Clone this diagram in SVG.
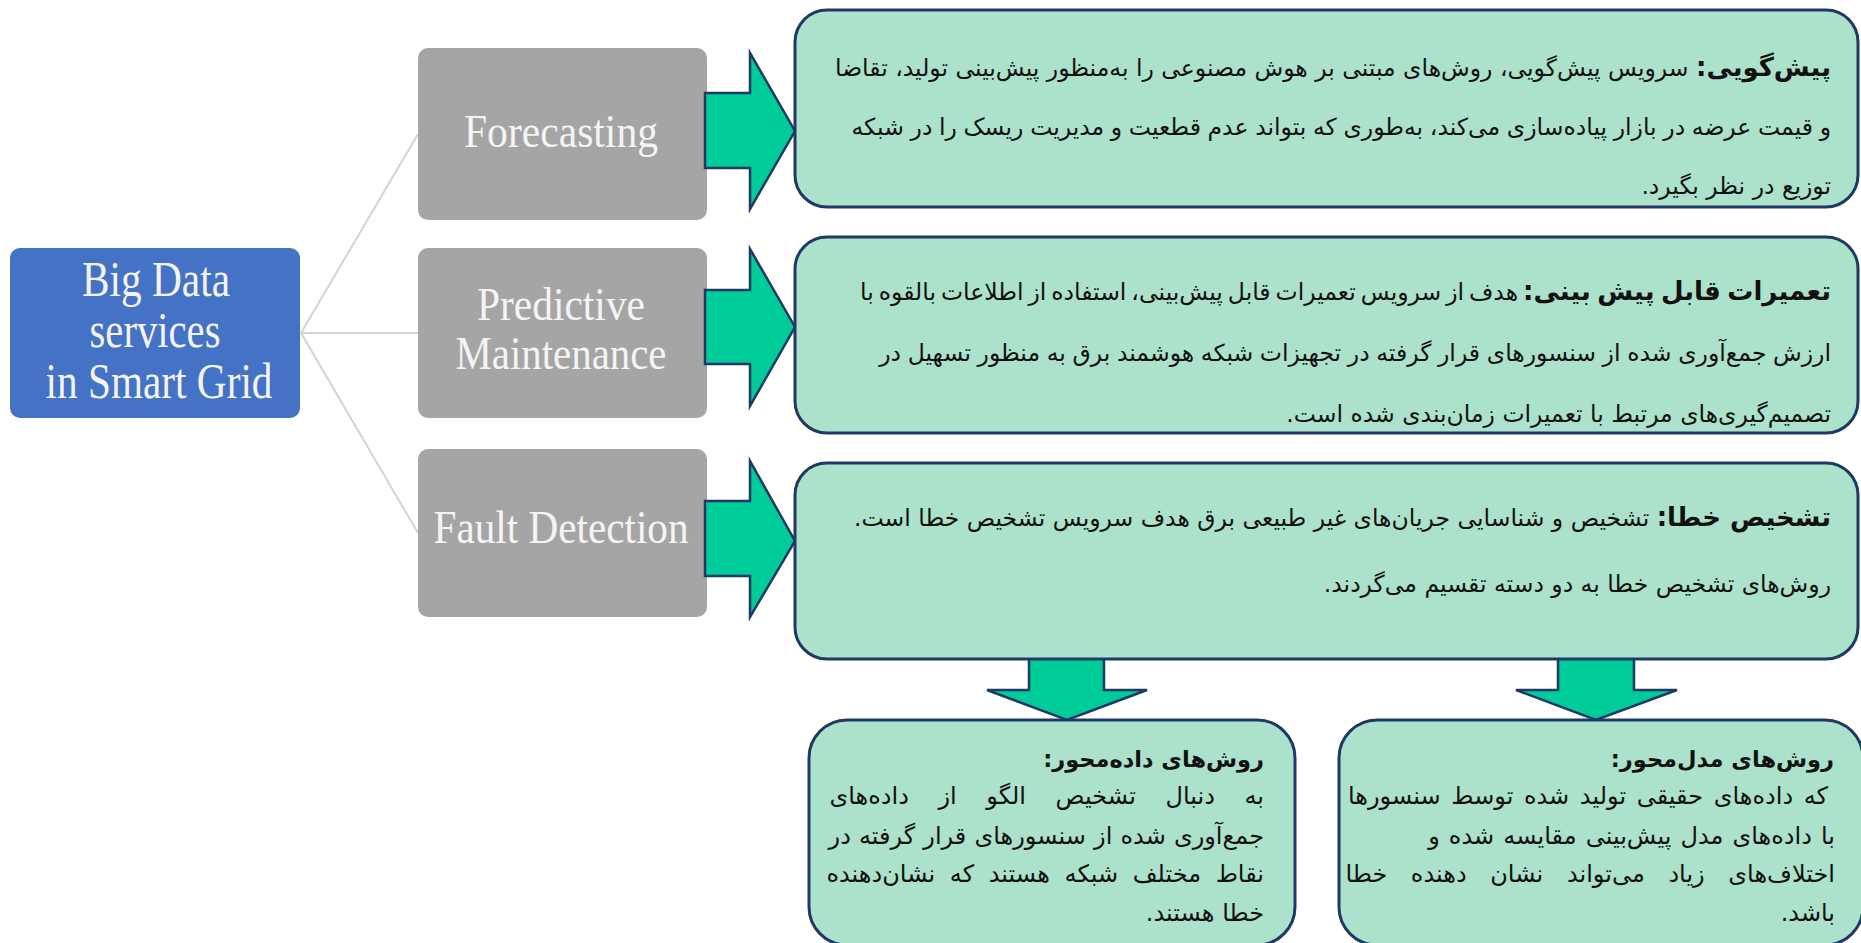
<svg xmlns="http://www.w3.org/2000/svg" width="1861" height="943" viewBox="0 0 1861 943">
  <style>
    .hub { fill: #4472C4; }
    .svc { fill: #A5A5A5; }
    .lat { font-family: "Liberation Serif", "Times New Roman", serif; fill: #F4F4F4; text-anchor: middle; }
    .link { stroke: #D3D3D3; stroke-width: 2; fill: none; }
    .arw { fill: #00CC99; stroke: #1F3864; stroke-width: 2.5; stroke-linejoin: miter; }
    .card { fill: #ACE2CB; stroke: #1F3864; stroke-width: 3; }
    .fa { font-family: "DejaVu Sans", "Noto Sans", sans-serif; fill: #111; direction: rtl; text-anchor: start; unicode-bidi: embed; }
    .top { font-size: 23.5px; }
    .sub { font-size: 24px; }
    .ttl { font-weight: bold; font-size: 22.5px; }
    .hd { font-weight: bold; font-size: 26px; }
  </style>

  <rect width="1861" height="943" fill="#FFFFFF"/>

  <!-- connectors from the hub to each service -->
  <g id="connectors">
    <line class="link" x1="301" y1="333" x2="418" y2="134"/>
    <line class="link" x1="301" y1="333" x2="418" y2="333"/>
    <line class="link" x1="301" y1="333" x2="418" y2="533"/>
  </g>

  <g id="hub">
    <rect class="hub" x="10" y="248" width="290" height="170" rx="10"/>
    <text class="lat" font-size="50" x="156" y="296" textLength="148" lengthAdjust="spacingAndGlyphs">Big Data</text>
    <text class="lat" font-size="50" x="155" y="347" textLength="131" lengthAdjust="spacingAndGlyphs">services</text>
    <text class="lat" font-size="50" x="159" y="398" textLength="227" lengthAdjust="spacingAndGlyphs">in Smart Grid</text>
  </g>

  <g id="forecasting">
    <rect class="svc" x="418" y="48" width="289" height="172" rx="10"/>
    <text class="lat" font-size="46" x="561" y="147" textLength="194" lengthAdjust="spacingAndGlyphs">Forecasting</text>
  </g>
  <g id="predictive-maintenance">
    <rect class="svc" x="418" y="248" width="289" height="170" rx="10"/>
    <text class="lat" font-size="46" x="561" y="320" textLength="168" lengthAdjust="spacingAndGlyphs">Predictive</text>
    <text class="lat" font-size="46" x="561" y="369" textLength="211" lengthAdjust="spacingAndGlyphs">Maintenance</text>
  </g>
  <g id="fault-detection">
    <rect class="svc" x="418" y="449" width="289" height="168" rx="10"/>
    <text class="lat" font-size="46" x="561" y="543" textLength="255" lengthAdjust="spacingAndGlyphs">Fault Detection</text>
  </g>

  <!-- block arrows -->
  <g id="arrows">
    <polygon class="arw" points="705,93 750,93 750,53 795,131 750,209 750,168 705,168"/>
    <polygon class="arw" points="705,290 750,290 750,249 795,327 750,406 750,364 705,364"/>
    <polygon class="arw" points="705,501 750,501 750,461 795,541 750,617 750,576 705,576"/>
    <polygon class="arw" points="1029,655 1104,655 1104,690 1147,690 1067,720 987,690 1029,690"/>
    <polygon class="arw" points="1558,655 1634,655 1634,690 1677,690 1596,720 1516,690 1558,690"/>
  </g>

  <g id="forecasting-desc">
    <rect class="card" x="795" y="10" width="1063" height="197" rx="32"/>
    <text class="fa top" x="1831" y="76"><tspan class="hd">پیش&#x200C;گویی:</tspan> سرویس پیش&#x200C;گویی، روش&#x200C;های مبتنی بر هوش مصنوعی را به&#x200C;منظور پیش&#x200C;بینی تولید، تقاضا</text>
    <text class="fa top" x="1831" y="135" word-spacing="-0.8">و قیمت عرضه در بازار پیاده&#x200C;سازی می&#x200C;کند، به&#x200C;طوری که بتواند عدم قطعیت و مدیریت ریسک را در شبکه</text>
    <text class="fa top" x="1831" y="194">توزیع در نظر بگیرد.</text>
  </g>

  <g id="maintenance-desc">
    <rect class="card" x="795" y="237" width="1063" height="196" rx="32"/>
    <text class="fa top" x="1831" y="300" word-spacing="-2.5"><tspan class="hd">تعمیرات قابل پیش بینی:</tspan> هدف از سرویس تعمیرات قابل پیش&#x200C;بینی، استفاده از اطلاعات بالقوه با</text>
    <text class="fa top" x="1831" y="361" word-spacing="-0.8">ارزش جمع&#x200C;آوری شده از سنسورهای قرار گرفته در تجهیزات شبکه هوشمند برق به منظور تسهیل در</text>
    <text class="fa top" x="1831" y="422">تصمیم&#x200C;گیری&#x200C;های مرتبط با تعمیرات زمان&#x200C;بندی شده است.</text>
  </g>

  <g id="fault-desc">
    <rect class="card" x="795" y="463" width="1063" height="196" rx="32"/>
    <text class="fa top" x="1831" y="526"><tspan class="hd">تشخیص خطا:</tspan> تشخیص و شناسایی جریان&#x200C;های غیر طبیعی برق هدف سرویس تشخیص خطا است.</text>
    <text class="fa top" x="1831" y="592">روش&#x200C;های تشخیص خطا به دو دسته تقسیم می&#x200C;گردند.</text>
  </g>

  <g id="data-driven">
    <rect class="card" x="809" y="720" width="486" height="225" rx="38"/>
    <text class="fa ttl" x="1264" y="767">روش&#x200C;های داده&#x200C;محور:</text>
    <text class="fa sub" x="1264" y="804" word-spacing="22">به دنبال تشخیص الگو از داده&#x200C;های</text>
    <text class="fa sub" x="1264" y="844" word-spacing="0.5">جمع&#x200C;آوری شده از سنسورهای قرار گرفته در</text>
    <text class="fa sub" x="1264" y="882" word-spacing="7">نقاط مختلف شبکه هستند که نشان&#x200C;دهنده</text>
    <text class="fa sub" x="1264" y="921">خطا هستند.</text>
  </g>

  <g id="model-driven">
    <rect class="card" x="1339" y="720" width="524" height="225" rx="38"/>
    <text class="fa ttl" x="1834" y="767">روش&#x200C;های مدل&#x200C;محور:</text>
    <text class="fa sub" x="1828" y="804" word-spacing="3">که داده&#x200C;های حقیقی تولید شده توسط سنسورها</text>
    <text class="fa sub" x="1835" y="844" word-spacing="1.5">با داده&#x200C;های مدل پیش&#x200C;بینی مقایسه شده و</text>
    <text class="fa sub" x="1835" y="882" word-spacing="16">اختلاف&#x200C;های زیاد می&#x200C;تواند نشان دهنده خطا</text>
    <text class="fa sub" x="1835" y="921">باشد.</text>
  </g>
</svg>
